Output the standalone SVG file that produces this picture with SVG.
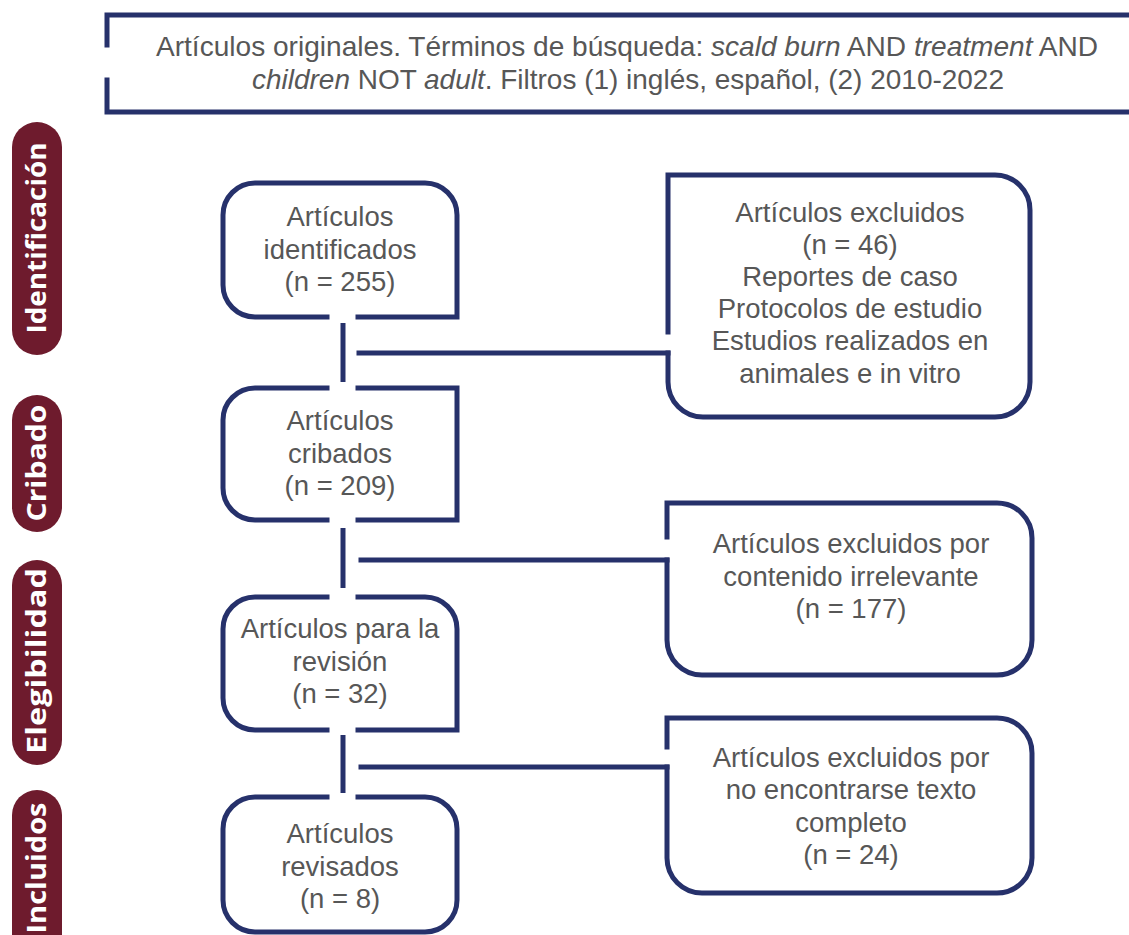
<svg xmlns="http://www.w3.org/2000/svg" width="1129" height="935" viewBox="0 0 1129 935">
<style>
.ln{fill:none;stroke:#26316b;stroke-width:5;stroke-linecap:square;stroke-linejoin:miter}
.cn{fill:none;stroke:#26316b;stroke-width:5;stroke-linecap:butt}
.t{font-family:"Liberation Sans",Arial,sans-serif;font-size:27.5px;fill:#575757;text-anchor:middle}
.h{font-family:"Liberation Sans",Arial,sans-serif;font-size:28px;fill:#575757;text-anchor:middle}
.pill{fill:#6e1b2d}
.pt{font-family:"Open Sans","DejaVu Sans",sans-serif;font-weight:700;font-size:26px;fill:#ffffff;text-anchor:middle}
</style>
<rect width="1129" height="935" fill="#ffffff"/>
<g id="header">
<path class="ln" d="M107,45 V15 H1135"/>
<path class="ln" d="M107,80 V112 H1135"/>
<text class="h" x="627" y="56" textLength="942" lengthAdjust="spacingAndGlyphs">Artículos originales. Términos de búsqueda: <tspan font-style="italic">scald burn</tspan> AND <tspan font-style="italic">treatment</tspan> AND</text>
<text class="h" x="628" y="89" textLength="752" lengthAdjust="spacingAndGlyphs"><tspan font-style="italic">children</tspan> NOT <tspan font-style="italic">adult</tspan>. Filtros (1) inglés, español, (2) 2010-2022</text>
</g>
<g id="stage-identificacion">
<rect class="pill" x="12" y="122" width="50" height="233" rx="25"/>
<text class="pt" transform="translate(46,238) rotate(-90)" textLength="191" lengthAdjust="spacingAndGlyphs">Identificación</text>
</g>
<g id="stage-cribado">
<rect class="pill" x="12" y="395" width="50" height="137" rx="25"/>
<text class="pt" transform="translate(46,463) rotate(-90)" textLength="117" lengthAdjust="spacingAndGlyphs">Cribado</text>
</g>
<g id="stage-elegibilidad">
<rect class="pill" x="12" y="560" width="50" height="205" rx="25"/>
<text class="pt" transform="translate(46,661) rotate(-90)" textLength="186" lengthAdjust="spacingAndGlyphs">Elegibilidad</text>
</g>
<g id="stage-incluidos">
<rect class="pill" x="12" y="790" width="50" height="170" rx="25"/>
<text class="pt" transform="translate(46,868) rotate(-90)" textLength="131" lengthAdjust="spacingAndGlyphs">Incluidos</text>
</g>
<g id="connectors">
<path class="cn" d="M343,323 V382"/>
<path class="cn" d="M343,528 V588"/>
<path class="cn" d="M343,735 V793"/>
<path class="ln" d="M359,353 H668"/>
<path class="ln" d="M361,560 H667"/>
<path class="ln" d="M361,767 H667"/>
</g>
<g id="n-identificados">
<path class="ln" d="M358,317 H457 V215 A32,32 0 0 0 425,183 H255 A32,32 0 0 0 223,215 V285 A32,32 0 0 0 255,317 H327"/>
<text class="t" x="340" y="226">Artículos</text>
<text class="t" x="340" y="259">identificados</text>
<text class="t" x="340" y="291">(n = 255)</text>
</g>
<g id="n-cribados">
<path class="ln" d="M327,388 H255 A32,32 0 0 0 223,420 V488 A32,32 0 0 0 255,520 H327"/>
<path class="ln" d="M358,388 H457 V520 H358"/>
<text class="t" x="340" y="430">Artículos</text>
<text class="t" x="340" y="463">cribados</text>
<text class="t" x="340" y="495">(n = 209)</text>
</g>
<g id="n-revision">
<path class="ln" d="M327,597 H255 A32,32 0 0 0 223,629 V698 A32,32 0 0 0 255,730 H327"/>
<path class="ln" d="M358,597 H425 A32,32 0 0 1 457,629 V730 H358"/>
<text class="t" x="340" y="638">Artículos para la</text>
<text class="t" x="340" y="671">revisión</text>
<text class="t" x="340" y="703">(n = 32)</text>
</g>
<g id="n-revisados">
<path class="ln" d="M358,797 H425 A32,32 0 0 1 457,829 V900 A32,32 0 0 1 425,932 H255 A32,32 0 0 1 223,900 V829 A32,32 0 0 1 255,797 H327"/>
<text class="t" x="340" y="843">Artículos</text>
<text class="t" x="340" y="876">revisados</text>
<text class="t" x="340" y="908">(n = 8)</text>
</g>
<g id="n-excluidos-46">
<path class="ln" d="M668,332 V175 H995 A35,35 0 0 1 1030,210 V382 A35,35 0 0 1 995,417 H703 A35,35 0 0 1 668,382 V353"/>
<text class="t" x="850" y="222">Artículos excluidos</text>
<text class="t" x="850" y="254">(n = 46)</text>
<text class="t" x="850" y="286">Reportes de caso</text>
<text class="t" x="850" y="318">Protocolos de estudio</text>
<text class="t" x="850" y="350">Estudios realizados en</text>
<text class="t" x="850" y="383">animales e in vitro</text>
</g>
<g id="n-excluidos-177">
<path class="ln" d="M667,537 V503 H997 A35,35 0 0 1 1032,538 V640 A35,35 0 0 1 997,675 H702 A35,35 0 0 1 667,640 V560"/>
<text class="t" x="851" y="553">Artículos excluidos por</text>
<text class="t" x="851" y="586">contenido irrelevante</text>
<text class="t" x="851" y="618">(n = 177)</text>
</g>
<g id="n-excluidos-24">
<path class="ln" d="M667,747 V718 H997 A35,35 0 0 1 1032,753 V858 A35,35 0 0 1 997,893 H702 A35,35 0 0 1 667,858 V767"/>
<text class="t" x="851" y="767">Artículos excluidos por</text>
<text class="t" x="851" y="799">no encontrarse texto</text>
<text class="t" x="851" y="832">completo</text>
<text class="t" x="851" y="864">(n = 24)</text>
</g>
</svg>
